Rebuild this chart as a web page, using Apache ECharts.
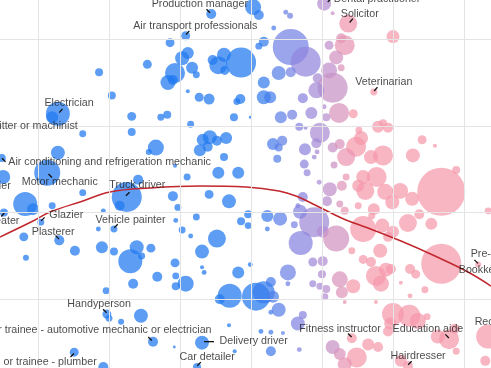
<!DOCTYPE html>
<html>
<head>
<meta charset="utf-8">
<script src="https://cdn.jsdelivr.net/npm/echarts@6/dist/echarts.min.js"></script>
<style>
html,body{margin:0;padding:0;background:#fff;}
#chart{width:491px;height:368px;}
</style>
</head>
<body>
<div id="chart"></div>
<script>
// Each occupation: [share of women (%), hourly wage ($), workers (thousands)]
const occupations = [
[18.6,46.2,16],[20.4,43.5,16],[12.8,41.4,144],[12.0,41.0,36],[16.3,39.1,12],[12.8,36.9,49],[4.9,36.3,16],[11.3,34.6,169],
[5.1,34.1,49],[8.2,31.0,144],[9.3,30.4,36],[5.2,30.0,16],[12.0,30.8,12],[10.4,28.9,12],[8.0,27.2,20],[13.0,26.8,25],
[15.2,25.6,25],[8.3,24.8,9],[16.3,32.3,12],[19.2,30.2,6],[18.5,28.1,6],[20.7,28.1,12],[22.5,31.8,225],[21.5,30.8,25],
[19.0,26.0,36],[20.7,25.5,16],[19.6,21.0,12],[19.7,18.3,20],[20.0,17.8,12],[21.7,17.4,9],[15.1,13.9,20],[19.2,12.2,25],
[34.4,52.9,25],[30.8,50.4,20],[28.6,49.6,20],[25.4,47.1,20],[31.1,48.4,36],[30.3,47.8,49],[29.3,46.1,100],[28.3,45.0,56],
[29.0,45.3,25],[31.7,46.7,36],[32.3,45.9,12],[31.1,44.0,4],[32.7,43.3,20],[34.1,43.1,30],[23.2,41.1,20],[27.3,41.0,12],
[28.2,41.3,16],[31.5,40.2,12],[23.2,39.3,16],[26.6,37.5,64],[25.6,37.0,9],[33.2,38.4,36],[34.2,38.7,49],[35.2,38.3,25],
[36.5,38.6,36],[32.8,37.2,36],[33.9,37.6,25],[36.2,36.4,16],[38.2,34.6,36],[35.4,34.6,36],[31.0,34.1,12],[29.3,35.4,4],
[24.1,33.8,25],[38.6,47.3,225],[35.4,47.0,81],[36.2,48.2,49],[36.3,46.4,20],[34.6,47.6,25],[38.5,43.1,25],[38.0,42.8,12],
[37.6,41.0,16],[40.3,53.7,64],[41.1,52.8,25],[29.0,31.9,25],[29.7,30.6,12],[34.1,32.1,20],[36.9,31.3,49],[32.3,29.5,12],
[29.4,29.1,6],[30.3,28.0,12],[31.5,27.3,6],[35.2,27.0,81],[33.1,25.5,49],[38.6,29.0,16],[29.3,24.2,20],[33.1,23.7,4],
[33.4,23.1,6],[29.4,22.7,12],[30.8,21.8,64],[29.4,21.5,16],[38.2,23.1,36],[26.8,22.6,25],[23.4,21.8,25],[23.9,26.0,49],
[25.9,25.9,20],[23.0,24.4,144],[24.6,25.0,12],[24.5,18.1,49],[36.9,17.0,4],[26.2,15.1,25],[29.2,14.5,2],[33.1,15.0,49],
[37.7,14.0,4],[32.4,12.2,16],[37.0,20.4,144],[35.6,20.0,25],
[50.3,54.1,49],[51.5,53.0,4],[44.9,53.1,6],[45.5,52.7,9],[43.2,51.3,6],[41.8,49.7,25],[41.1,49.2,12],[45.6,49.1,324],
[47.7,47.4,225],[43.9,46.1,49],[45.6,46.2,25],[51.0,49.3,20],[52.7,50.1,25],[53.2,49.3,100],[53.7,51.8,81],[52.0,47.9,49],
[51.0,46.4,64],[52.7,46.7,12],[49.4,45.5,25],[51.5,44.4,225],[49.2,44.1,64],[47.3,43.2,25],[50.3,42.2,6],[52.4,41.5,100],
[54.4,41.4,20],[48.5,41.5,36],[50.6,41.0,16],[41.8,45.0,36],[41.8,43.3,49],[42.7,43.3,36],[39.9,41.0,2],[44.2,41.0,36],
[45.8,41.3,25],[46.8,39.9,16],[47.7,39.8,4],[49.7,39.2,100],[49.2,38.0,25],[43.1,37.9,36],[44.4,38.3,25],[43.9,37.5,16],
[43.7,36.2,16],[47.6,37.3,36],[49.3,37.0,6],[48.9,36.4,6],[47.5,35.6,20],[47.9,34.6,12],[51.5,37.5,25],[52.5,37.9,25],
[51.7,35.5,12],[49.6,33.5,6],[54.8,37.6,100],[53.4,36.4,81],[55.5,38.6,49],[55.2,39.5,12],[53.4,34.1,12],[55.8,34.1,49],
[60.0,50.3,42],[57.3,43.9,12],[57.9,39.9,36],[59.3,39.8,25],[58.6,40.3,16],[64.1,38.4,20],[65.9,37.7,4],[62.8,36.6,49],
[58.6,36.6,100],[56.9,36.4,49],[68.9,34.9,16],[66.8,32.4,576],[57.7,34.1,100],
[51.1,32.7,49],[50.7,31.3,25],[52.5,31.0,12],[53.2,30.2,16],[55.1,30.8,12],[47.3,31.8,25],[46.6,30.8,6],[48.9,28.9,225],
[46.9,30.1,49],[50.1,27.8,36],[52.0,27.0,169],[47.0,26.5,144],[55.8,28.1,169],[54.2,25.6,12],[55.8,24.6,20],[45.2,23.1,64],
[48.7,24.3,20],[50.1,24.4,25],[50.0,22.9,16],[48.7,21.8,12],[49.7,21.5,12],[52.5,22.3,64],[54.4,21.5,49],[52.8,20.8,36],
[39.9,24.0,6],[42.3,29.6,36],[44.1,29.3,49],[39.6,29.8,16],[39.6,28.5,12],[42.3,28.1,6],[46.1,28.6,12],[42.8,22.0,25],
[45.2,21.8,6],[40.7,20.3,196],[41.8,20.8,121],[43.9,18.8,49],[43.1,20.3,36],[50.6,21.2,16],[50.4,20.3,12],[46.6,17.2,49],
[47.3,18.2,16],[41.4,16.3,6],[42.8,16.2,6],[44.5,16.1,4],[42.8,14.0,25],[46.8,14.2,6],[51.5,14.5,49],[52.5,13.7,36],
[54.9,13.3,100],[53.2,12.5,49],[56.5,14.8,36],[54.2,15.5,25],[53.2,19.7,4],[52.8,33.1,25],[55.1,33.1,36],[56.1,32.5,81],
[42.8,18.5,6],
[58.9,32.4,64],[61.0,32.5,64],[59.9,31.2,49],[62.7,31.6,49],[57.3,30.4,36],[57.0,29.6,12],[62.1,28.8,81],[65.4,28.7,36],
[60.0,27.8,36],[58.5,28.5,49],[59.3,27.2,25],[63.7,29.8,25],[58.2,25.6,49],[56.9,24.3,25],[66.8,24.1,400],[62.4,23.5,25],
[63.2,22.9,20],[57.6,22.7,100],[59.0,23.4,49],[59.7,23.5,25],[58.3,21.8,64],[61.1,21.9,4],[64.5,21.1,12],[62.4,20.4,6],
[73.4,30.2,12],[72.0,24.0,9],[57.6,19.7,4],[60.0,18.3,121],[62.3,18.1,121],[63.5,17.5,64],[59.6,17.2,36],[67.9,15.4,100],
[68.7,16.6,25],[66.3,15.7,49],[73.4,15.7,144],[57.9,14.5,25],[68.9,14.0,12],[61.1,12.9,36],[62.1,12.3,25],[73.0,12.9,25],
[64.8,18.0,12],[59.3,16.3,25]
];

// Fitted trend line: [share of women (%), hourly wage ($)]
const trendLine = [
[4.65,27.19],[9.30,29.03],[11.69,30.07],[16.34,31.34],[20.14,32.38],[25.77,32.84],[32.82,33.07],[39.30,32.95],
[43.94,32.49],[46.34,31.91],[48.73,30.99],[50.99,30.07],[53.38,29.15],[56.48,28.22],[61.13,26.72],[65.92,24.99],
[70.56,23.15],[73.80,21.53]
];

// Gridline values shown in the view
const xGridValues = [10, 20, 30, 40, 50, 60, 70];
const yGridValues = [20, 30, 40, 50];

// Labelled occupations: name and their [share of women, wage]
const labelNames = [
'Production manager','Air transport professionals','Dental practitioner','Solicitor','Veterinarian',
'Electrician','Metal fitter or machinist','Air conditioning and refrigeration mechanic','Farrier','Motor mechanic',
'Water heater','Truck driver','Glazier','Plasterer','Vehicle painter','Handyperson',
'Apprentice or trainee - automotive mechanic or electrician','Apprentice or trainee - plumber','Delivery driver',
'Car detailer','Fitness instructor','Education aide','Hairdresser','Receptionist','Pre-primary school teacher','Bookkeeper'
];
const labelPoints = [
[34.4,52.9],[30.8,50.4],[50.3,54.1],[53.7,51.8],[57.3,43.9],
[12.8,41.4],[12.0,41.0],[4.9,36.3],[5.1,34.1],[11.3,34.6],
[5.2,30.0],[22.5,31.8],[10.4,28.9],[13.0,26.8],[20.7,28.1],[19.7,18.3],
[26.2,15.1],[15.1,13.9],[33.1,15.0],
[32.4,12.2],[54.2,15.5],[67.9,15.4],[62.1,12.3],[73.4,15.7],[72.0,24.0],[66.8,24.1]
];

// Layout only (pixels): [textDx, textDy, align, tickDx, tickDy, tickRotate, tickLength]
const labelLayout = [
[-59,-9,'left',-3,-3,45,5],[-52,-9,'left',2,-3,-40,5],[10,-4,'left',5,-3,-45,4],[-7,-9,'left',3,-3,-40,5],[-18,-10,'left',2,-3,-40,5],
[-13,-10,'left',3,-3,-40,5],[26,9,'right',1,2,-40,0],[7,5,'left',2,2,45,5],[8,10,'right',0,0,0,0],[-25,10,'left',3,3,45,5],
[16,9,'right',-1,2,-40,5],[-17,-11,'left',1,-3,-45,5],[9,-7,'left',2,-3,-45,5],[-27,-8,'left',-2,-3,45,5],[-18,-9,'left',2,-3,-45,5],[-39,-9,'left',-2,-3,45,5],
[59,-11,'right',-3,-3,45,5],[23,10,'right',-2,3,-45,5],[18,-1,'left',7,-1,90,10],
[-17,-9,'left',2,-3,-45,5],[-52,-9,'left',-2,-3,45,5],[-56,-10,'left',-2,-3,45,5],[-17,-10,'left',2,-3,-45,5],[-13,-14,'left',0,0,0,0],[-7,-10,'left',-2,-3,45,5],[18,7,'left',0,0,0,0]
];

const chart = echarts.init(document.getElementById('chart'), null, {renderer:'canvas'});

const labelData = labelNames.map((n, i) => {
  const L = labelLayout[i];
  return {
    value: labelPoints[i], name: n,
    label: {offset: [L[0], L[1]], align: L[2]}
  };
});
const tickData = [];
labelNames.forEach((n, i) => {
  const L = labelLayout[i];
  if (L[6] > 0) {
    tickData.push({value: labelPoints[i], symbolOffset: [L[3], L[4]], symbolRotate: L[5], symbolSize: [1.3, L[6]]});
  }
});

const font = '"Liberation Sans", Arial, Helvetica, sans-serif';
const gridLineStyle = {color: '#e4e4e4', width: 1, type: 'solid'};

chart.setOption({
  animation: false,
  backgroundColor: '#ffffff',
  grid: {left: 0, right: 0, top: 0, bottom: 0, containLabel: false},
  xAxis: {
    type: 'value', min: 4.648, max: 73.803,
    axisLine: {show: false}, axisTick: {show: false}, axisLabel: {show: false},
    splitLine: {show: false}
  },
  yAxis: {
    type: 'value', min: 12.076, max: 54.521,
    axisLine: {show: false}, axisTick: {show: false}, axisLabel: {show: false},
    splitLine: {show: false}
  },
  visualMap: {
    show: false, type: 'continuous', seriesIndex: 1, dimension: 0,
    min: 40.5, max: 54,
    inRange: {color: ['#1f78f0', '#5a80e8', '#8a84de', '#b88fd0', '#f598ab']}
  },
  series: [
    {
      type: 'line', z: 1, data: [], silent: true,
      markLine: {
        silent: true, symbol: 'none', animation: false,
        label: {show: false},
        lineStyle: gridLineStyle,
        data: xGridValues.map(v => ({xAxis: v})).concat(yGridValues.map(v => ({yAxis: v})))
      }
    },
    {
      type: 'scatter', z: 2,
      data: occupations,
      symbolSize: v => 2 * Math.sqrt(v[2]),
      itemStyle: {opacity: 0.72},
      emphasis: {disabled: true}, silent: true
    },
    {
      type: 'line', z: 3, data: trendLine, smooth: 0.4, symbol: 'none',
      lineStyle: {color: '#c1272d', width: 1.5}, silent: true
    },
    {
      type: 'scatter', z: 4, data: tickData, symbol: 'rect',
      itemStyle: {color: '#111111', opacity: 1}, silent: true
    },
    {
      type: 'scatter', z: 5, data: labelData, symbolSize: 1,
      itemStyle: {color: 'rgba(0,0,0,0)'}, silent: true,
      label: {
        show: true, position: [0, 0], verticalAlign: 'middle',
        formatter: p => p.name,
        color: '#1a1a1a', fontSize: 10.7, fontFamily: font
      }
    }
  ]
});
</script>
</body>
</html>
